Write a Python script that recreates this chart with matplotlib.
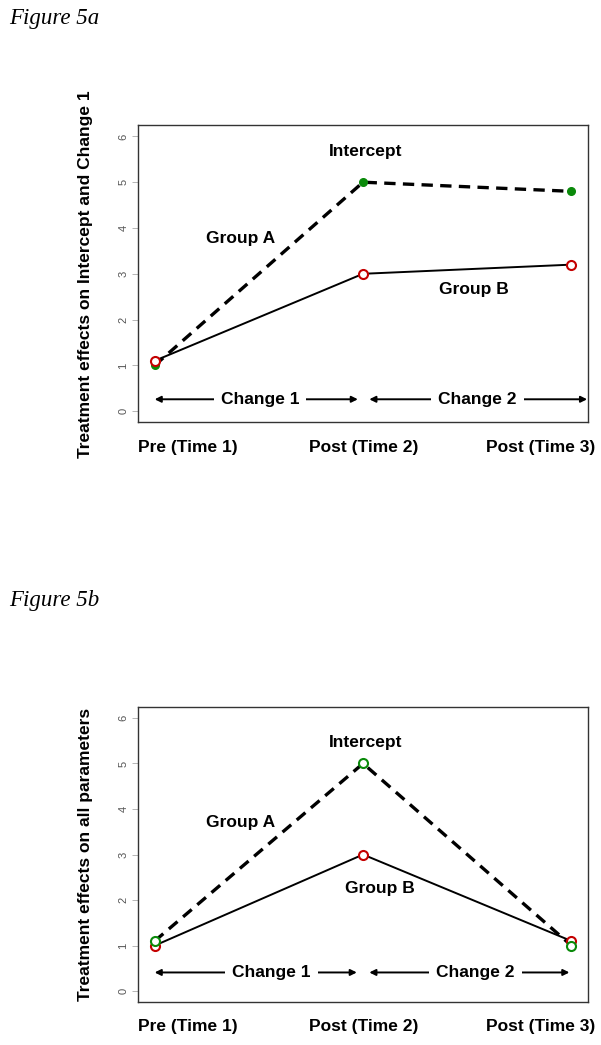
import matplotlib
matplotlib.use("Agg")
import matplotlib.pyplot as plt

times = [1, 2, 3]
time_labels = ["Pre (Time 1)", "Post (Time 2)", "Post (Time 3)"]
label_x = [1.16, 2.005, 2.85]
yticks = [0, 1, 2, 3, 4, 5, 6]

a_groupA = [1.0, 5.0, 4.8]
a_groupB = [1.1, 3.0, 3.2]
b_groupA = [1.1, 5.0, 1.0]
b_groupB = [1.0, 3.0, 1.1]

GREEN = "#0a8a0a"
RED = "#c40000"
SANS = ["Liberation Sans", "DejaVu Sans"]
SERIF = ["Liberation Serif", "DejaVu Serif"]
FS = 12.5

fig = plt.figure(figsize=(6.01, 10.45), dpi=100)

def panel(rect, A, B, A_filled, ylabel, txt, arrow_y, ch_pos):
    ax = fig.add_axes(rect)
    ax.set_xlim(0.92, 3.08)
    ax.set_ylim(-0.24, 6.24)
    ax.plot(times, A, color="black", lw=2.4, ls=(0, (3.4, 2.2)), zorder=2)
    ax.plot(times, B, color="black", lw=1.4, zorder=2)
    if A_filled:
        ax.plot(times, A, ls="none", marker="o", ms=5.5, mfc=GREEN, mec=GREEN, zorder=3)
    else:
        ax.plot(times, A, ls="none", marker="o", ms=6.5, mfc="white", mec=GREEN, mew=1.5, zorder=4)
    ax.plot(times, B, ls="none", marker="o", ms=6.5, mfc="white", mec=RED, mew=1.5, zorder=3)
    ax.set_xticks([])
    ax.set_yticks(yticks)
    ax.set_yticklabels([str(t) for t in yticks], rotation=90, va="center",
                       fontsize=8, color="#555555", family=SANS)
    ax.tick_params(axis="y", length=4, width=0.6, color="#aaaaaa", pad=3)
    for s in ax.spines.values():
        s.set_color("#333333")
        s.set_linewidth(1.0)
    ax.set_ylabel(ylabel, fontsize=FS, fontweight="bold", family=SANS, labelpad=18)
    for x, lab in zip(label_x, time_labels):
        ax.text(x, -0.24 - 0.38, lab, ha="center", va="top",
                fontsize=FS, fontweight="bold", family=SANS)
    for (x, y, s) in txt:
        ax.text(x, y, s, ha="center", va="center", fontsize=FS, fontweight="bold", family=SANS)
    (s1, e1, c1), (s2, e2, c2) = ch_pos
    for s, e, c, lab in [(s1, e1, c1, "Change 1"), (s2, e2, c2, "Change 2")]:
        ax.annotate("", xy=(e, arrow_y), xytext=(s, arrow_y),
                    arrowprops=dict(arrowstyle="<|-|>", color="black", lw=1.4,
                                    mutation_scale=9, shrinkA=0, shrinkB=0), zorder=2)
        ax.text(c, arrow_y, lab, ha="center", va="center", fontsize=FS, fontweight="bold",
                family=SANS, zorder=5,
                bbox=dict(boxstyle="square,pad=0.4", fc="white", ec="none"))
    return ax

ax1 = panel([0.2296, 0.596, 0.749, 0.284], a_groupA, a_groupB, True,
            "Treatment effects on Intercept and Change 1",
            [(2.01, 5.68, "Intercept"), (1.41, 3.76, "Group A"), (2.53, 2.66, "Group B")],
            0.26, [(1.0, 1.975, 1.505), (2.03, 3.075, 2.55)])
ax2 = panel([0.2296, 0.0411, 0.749, 0.2823], b_groupA, b_groupB, False,
            "Treatment effects on all parameters",
            [(2.01, 5.46, "Intercept"), (1.41, 3.7, "Group A"), (2.08, 2.26, "Group B")],
            0.41, [(1.0, 1.97, 1.56), (2.03, 2.99, 2.54)])

fig.text(0.016, 0.982, "Figure 5a", ha="left", va="center", fontsize=16.5,
         style="italic", family=SERIF)
fig.text(0.016, 0.425, "Figure 5b", ha="left", va="center", fontsize=16.5,
         style="italic", family=SERIF)

fig.savefig("out.png", dpi=100)
